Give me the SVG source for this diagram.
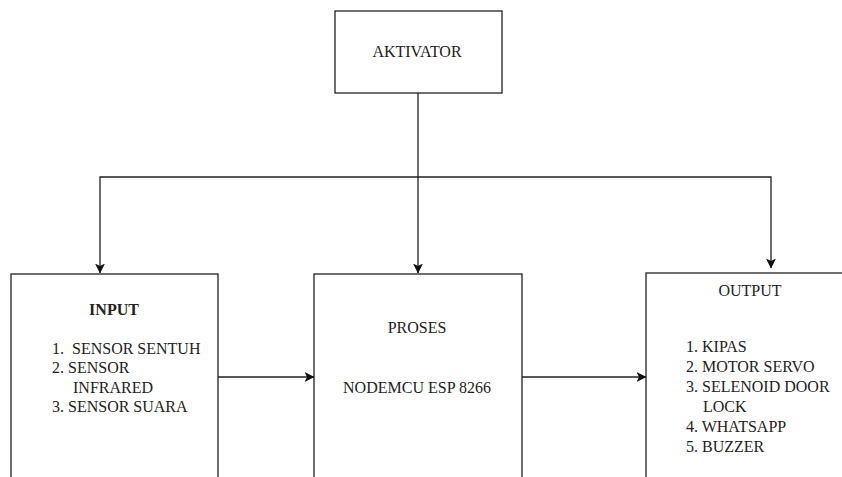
<svg xmlns="http://www.w3.org/2000/svg" width="842" height="477" viewBox="0 0 842 477">
<style>
.box{fill:#fff;stroke:#222;stroke-width:1.3}
.ln{fill:none;stroke:#222;stroke-width:1.3}
.t{font-size:16px;fill:#222;white-space:pre}
.b{font-weight:bold}
.c{text-anchor:middle}
</style>
<defs>
<marker id="arr" viewBox="0 0 10 10" refX="9.5" refY="5" markerWidth="10" markerHeight="10" markerUnits="userSpaceOnUse" orient="auto">
<path d="M0,0 L10,5 L0,10 L2.5,5 Z" fill="#111"/>
</marker>
</defs>
<rect width="842" height="477" fill="#fff"/>
<g id="aktivator" font-family="'Liberation Serif', 'Times New Roman', 'DejaVu Serif', serif">
<rect class="box" x="335" y="11" width="167" height="82"/>
<text class="t c" x="417" y="57">AKTIVATOR</text>
</g>
<g id="input" font-family="'Liberation Serif', 'Times New Roman', 'DejaVu Serif', serif">
<rect class="box" x="11" y="274" width="207" height="215"/>
<text class="t c b" x="114" y="315">INPUT</text>
<text class="t" x="52" y="354" xml:space="preserve">1.  SENSOR SENTUH</text>
<text class="t" x="52" y="373">2. SENSOR</text>
<text class="t" x="73" y="392.5">INFRARED</text>
<text class="t" x="52" y="412">3. SENSOR SUARA</text>
</g>
<g id="proses" font-family="'Liberation Serif', 'Times New Roman', 'DejaVu Serif', serif">
<rect class="box" x="314" y="274" width="208" height="215"/>
<text class="t c" x="417" y="333">PROSES</text>
<text class="t c" x="417" y="393">NODEMCU ESP 8266</text>
</g>
<g id="output" font-family="'Liberation Serif', 'Times New Roman', 'DejaVu Serif', serif">
<rect class="box" x="646" y="273" width="210" height="215"/>
<text class="t c" x="750" y="296">OUTPUT</text>
<text class="t" x="686" y="352">1. KIPAS</text>
<text class="t" x="686" y="372">2. MOTOR SERVO</text>
<text class="t" x="686" y="392">3. SELENOID DOOR</text>
<text class="t" x="703" y="412">LOCK</text>
<text class="t" x="686" y="432">4. WHATSAPP</text>
<text class="t" x="686" y="452">5. BUZZER</text>
</g>
<g id="connectors">
<path class="ln" d="M418,93 V273" marker-end="url(#arr)"/>
<path class="ln" d="M418,177 H100 V273" marker-end="url(#arr)"/>
<path class="ln" d="M418,177 H771 V268" marker-end="url(#arr)"/>
<path class="ln" d="M218,377 H314" marker-end="url(#arr)"/>
<path class="ln" d="M522,377 H646" marker-end="url(#arr)"/>
</g>
</svg>
